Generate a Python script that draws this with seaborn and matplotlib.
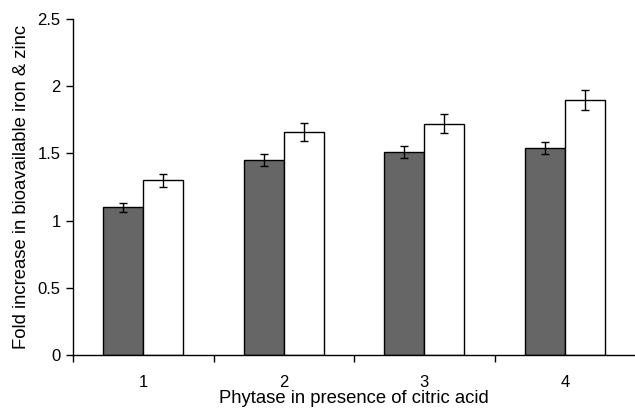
"""Fold increase in bioavailable iron and zinc, grouped bar chart."""

import matplotlib

matplotlib.use("Agg")

import matplotlib.pyplot as plt
import pandas as pd
import seaborn as sns
from matplotlib.ticker import FixedLocator, FuncFormatter

categories = ["1", "2", "3", "4"]
series_names = ["Iron", "Zinc"]
iron_values = [1.10, 1.45, 1.51, 1.54]
iron_errors = [0.033, 0.045, 0.046, 0.045]
zinc_values = [1.30, 1.66, 1.72, 1.90]
zinc_errors = [0.05, 0.07, 0.07, 0.075]

frame = pd.DataFrame(
    {
        "treatment": categories * 2,
        "series": [series_names[0]] * 4 + [series_names[1]] * 4,
        "value": iron_values + zinc_values,
        "error": iron_errors + zinc_errors,
    }
)

sns.set_theme(style="ticks")
plt.rcParams.update(
    {
        "font.family": ["Liberation Sans", "DejaVu Sans"],
        "text.color": "black",
        "axes.labelcolor": "black",
        "xtick.color": "black",
        "ytick.color": "black",
    }
)

fig = plt.figure(figsize=(6.35, 4.13), dpi=100)
ax = fig.add_axes([0.115, 0.140, 0.885, 0.814])

sns.barplot(
    data=frame,
    x="treatment",
    y="value",
    hue="series",
    order=categories,
    hue_order=series_names,
    palette=["#666666", "#ffffff"],
    edgecolor="black",
    linewidth=1.0,
    width=0.57,
    errorbar=None,
    legend=False,
    ax=ax,
)

# error bars placed at the centres of the drawn bars
for patch, err in zip(ax.patches, iron_errors + zinc_errors):
    ax.errorbar(
        patch.get_x() + patch.get_width() / 2,
        patch.get_height(),
        yerr=err,
        fmt="none",
        ecolor="black",
        elinewidth=1.0,
        capsize=3,
        capthick=1.0,
    )

ax.set_xlim(-0.5, 3.5)
ax.set_ylim(0, 2.5)
ax.set_yticks([0, 0.5, 1, 1.5, 2, 2.5])
ax.yaxis.set_major_formatter(FuncFormatter(lambda v, _: f"{v:g}"))

# ticks between groups, labels at group centres
ax.xaxis.set_major_locator(FixedLocator([-0.5, 0.5, 1.5, 2.5]))
ax.xaxis.set_minor_locator(FixedLocator([0, 1, 2, 3]))
ax.set_xticklabels([])
ax.set_xticklabels(categories, minor=True)
ax.tick_params(axis="x", which="major", length=5, width=1.0, color="black")
ax.tick_params(axis="x", which="minor", length=0, pad=14, labelsize=12)
ax.tick_params(axis="y", length=5, width=1.0, color="black", labelsize=12, pad=4)

for side in ["top", "right"]:
    ax.spines[side].set_visible(False)
for side in ["left", "bottom"]:
    ax.spines[side].set_color("black")
    ax.spines[side].set_linewidth(1.0)

ax.set_xlabel("Phytase in presence of citric acid", fontsize=13.3, labelpad=0)
ax.set_ylabel("Fold increase in bioavailable iron & zinc", fontsize=13.3, labelpad=5)

fig.savefig("out.png", dpi=100)
plt.close(fig)
